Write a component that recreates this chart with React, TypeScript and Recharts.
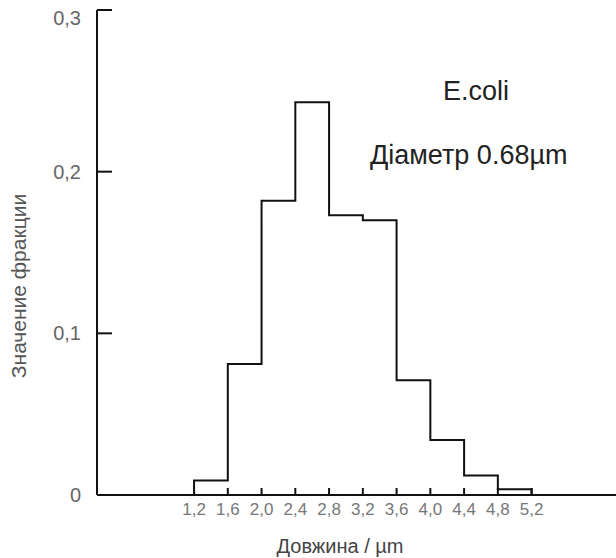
import { Line, LineChart, XAxis, YAxis } from 'recharts';

// bin edges along the length axis (µm) and the fraction in each bin
const binEdges = [1.2, 1.6, 2.0, 2.4, 2.8, 3.2, 3.6, 4.0, 4.4, 4.8, 5.2];
const fractions = [0.009, 0.081, 0.182, 0.243, 0.173, 0.17, 0.071, 0.034, 0.012, 0.0035];

const xTicks = [1.2, 1.6, 2.0, 2.4, 2.8, 3.2, 3.6, 4.0, 4.4, 4.8, 5.2];
const yTicks = [0, 0.1, 0.2, 0.3];

const xTitle = 'Довжина / µm';
const yTitle = 'Значение фракции';
const strainLabel = 'E.coli';
const diameterLabel = 'Діаметр 0.68µm';

// outline of the histogram: rise from the axis, step across each bin, drop back down
const stepData = [
    { x: binEdges[0], y: 0 },
    ...fractions.map((f, i) => ({ x: binEdges[i], y: f })),
    { x: binEdges[binEdges.length - 1], y: fractions[fractions.length - 1] },
    { x: binEdges[binEdges.length - 1], y: 0 },
];

const fmt = (v: number) => (v === 0 ? '0' : v.toFixed(1).replace('.', ','));
const font = '"Liberation Sans", Arial, sans-serif';

function YTick({ x, y, payload }: any) {
    const axisX = x + 16;
    // the top label sits a little below its tick in the original
    const labelY = payload.value === 0.3 ? y + 8 : y;
    return (
        <g>
            <line x1={axisX} y1={y} x2={axisX + 15} y2={y} stroke="#111" strokeWidth={2} />
            <text x={x} y={labelY} textAnchor="end" dominantBaseline="central" fontSize={20} fill="#666" fontFamily={font}>
                {fmt(payload.value)}
            </text>
        </g>
    );
}

function XTick({ x, y, payload }: any) {
    const axisY = y - 8;
    return (
        <g>
            <line x1={x} y1={axisY} x2={x} y2={axisY - 7} stroke="#111" strokeWidth={2} />
            <text x={x} y={y} dy="0.71em" textAnchor="middle" fontSize={17} fill="#777" fontFamily={font}>
                {payload.value.toFixed(1).replace('.', ',')}
            </text>
        </g>
    );
}

export default function App() {
    return (
        <div style={{ position: 'absolute', left: 0, top: 0, width: 616, height: 558, background: '#fff' }}>
            <LineChart
                width={616}
                height={558}
                data={stepData}
                margin={{ top: 10, right: 0, left: 0, bottom: 0 }}
            >
                <XAxis
                    dataKey="x"
                    type="number"
                    domain={[0.05, 6.2]}
                    ticks={xTicks}
                    allowDataOverflow
                    height={63}
                    tickSize={0}
                    tickMargin={8}
                    tickLine={false}
                    tick={<XTick />}
                    axisLine={{ stroke: '#111', strokeWidth: 2 }}
                    label={{
                        content: () => (
                            <text x={340} y={553} textAnchor="middle" fontSize={20} fill="#444" fontFamily={font}>
                                {xTitle}
                            </text>
                        ),
                    }}
                />
                <YAxis
                    type="number"
                    domain={[0, 0.3]}
                    ticks={yTicks}
                    width={97}
                    tickSize={0}
                    tickMargin={16}
                    tickLine={false}
                    tick={<YTick />}
                    axisLine={{ stroke: '#111', strokeWidth: 2 }}
                    label={{
                        content: () => (
                            <text
                                x={18}
                                y={286}
                                transform="rotate(-90 18 286)"
                                textAnchor="middle"
                                dominantBaseline="central"
                                fontSize={21}
                                fill="#555"
                                fontFamily={font}
                            >
                                {yTitle}
                            </text>
                        ),
                    }}
                />
                <Line
                    type="stepAfter"
                    dataKey="y"
                    stroke="#111"
                    strokeWidth={2}
                    dot={false}
                    activeDot={false}
                    isAnimationActive={false}
                />
            </LineChart>
            <div style={{ position: 'absolute', left: 443, top: 78, fontFamily: font, fontSize: 27, color: '#222', lineHeight: 1, whiteSpace: 'nowrap' }}>
                {strainLabel}
            </div>
            <div style={{ position: 'absolute', left: 370, top: 142, fontFamily: font, fontSize: 27, color: '#222', lineHeight: 1, whiteSpace: 'nowrap' }}>
                {diameterLabel}
            </div>
        </div>
    );
}
